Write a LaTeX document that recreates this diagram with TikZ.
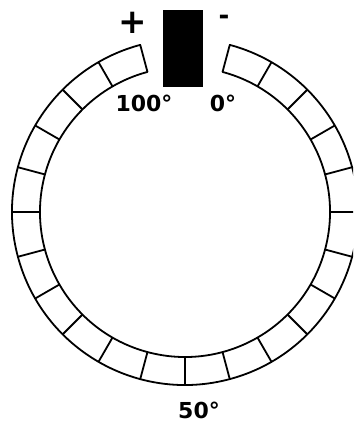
\documentclass[tikz,border=0pt]{standalone}
\usepackage{fontspec}
\setmainfont{DejaVu Sans}
\tikzset{
  ring/.style={line width=1.8pt, line join=round},
  lbl/.style={inner sep=0pt, font=\fontsize{22}{22}\selectfont\bfseries},
  sign/.style={inner sep=0pt, font=\fontsize{34}{34}\selectfont\bfseries}
}
\begin{document}
\begin{tikzpicture}[x=1pt, y=1pt]
  \useasboundingbox (0,0) rectangle (353,427);
  \clip (0,0) rectangle (353,427);
  % Anillo de resistencia
  \begin{scope}[shift={(185,215)}]
    \draw[ring] (105:173pt) arc[start angle=105, end angle=435, radius=173pt]
      -- (75:145pt) arc[start angle=435, end angle=105, radius=145pt] -- cycle;
    % Divisiones
    \foreach \a in {120,135,...,420}
      \draw[ring] (\a:145pt) -- (\a:173pt);
  \end{scope}
  % Cursor
  \node[fill=black, minimum width=40pt, minimum height=77pt, inner sep=0pt] (bar) at (183,378.5) {};
  \node[sign] (plus) at (133,404) {+};
  \node[sign, font=\fontsize{26}{26}\selectfont\bfseries] (minus) at (224,407) {-};
  % Escala
  \node[lbl] (lab100) at (144,324) {100°};
  \node[lbl] (lab0) at (223,324) {0°};
  \node[lbl] (lab50) at (199,17) {50°};
\end{tikzpicture}
\end{document}
